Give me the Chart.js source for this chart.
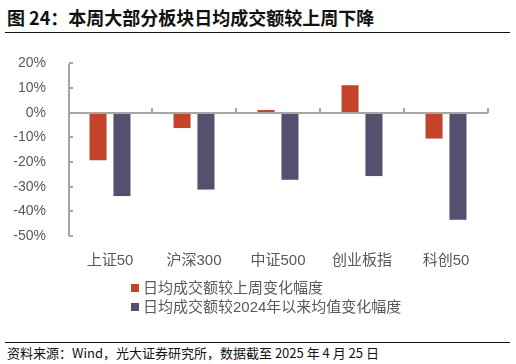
<!DOCTYPE html>
<html>
<head>
<meta charset="utf-8">
<script src="https://cdn.jsdelivr.net/npm/chart.js@4/dist/chart.umd.min.js"></script>
<style>
  html, body { margin: 0; padding: 0; background: #fff; }
  body { width: 516px; height: 364px; position: relative; overflow: hidden;
         font-family: "Liberation Sans", "Noto Sans CJK SC", sans-serif; }
  #title { position: absolute; left: 7px; top: 4px; font-size: 18px; font-weight: bold;
           font-family: "Noto Sans CJK SC", sans-serif; color: #111; white-space: nowrap; }
  .rule { position: absolute; left: 5px; width: 505px; height: 0; border-top: 1.5px solid #111; }
  #wrap { position: absolute; left: 0; top: 41px; width: 516px; height: 240px; }
  #legend { position: absolute; left: 131px; top: 278px; font-size: 15px; color: #595959; line-height: 19px; }
  #legend div { white-space: nowrap; }
  #legend span { display: inline-block; width: 8px; height: 8px; margin-right: 4px; vertical-align: 1px; }
  #note { position: absolute; left: 7px; top: 343px; font-size: 13px; color: #111; white-space: nowrap;
          font-family: "Noto Sans CJK SC", sans-serif; }
</style>
</head>
<body>
<div id="title">图 24：本周大部分板块日均成交额较上周下降</div>
<div class="rule" style="top:32px"></div>
<div id="wrap"><canvas id="chart"></canvas></div>
<div id="legend"></div>
<div class="rule" style="top:342px"></div>
<div id="note">资料来源：Wind，光大证券研究所，数据截至 2025 年 4 月 25 日</div>
<script>
const categories = ['上证50', '沪深300', '中证500', '创业板指', '科创50'];
const weekChange = [-19.5, -6.4, 1.3, 11.3, -10.7];
const ytdAvgChange = [-34.0, -31.3, -27.4, -25.9, -43.6];
const seriesNames = ['日均成交额较上周变化幅度', '日均成交额较2024年以来均值变化幅度'];
const colors = ['#C4432A', '#55506F'];

const axisColor = '#A6A6A6';

// legend drawn as html so both rows are left aligned
const legend = document.getElementById('legend');
seriesNames.forEach((name, i) => {
    const row = document.createElement('div');
    row.innerHTML = '<span style="background:' + colors[i] + '"></span>' + name;
    legend.appendChild(row);
});

// axis lines and inside tick marks like the excel original
const axisPlugin = {
    id: 'axisPlugin',
    afterDatasetsDraw(chart) {
        const ctx = chart.ctx;
        const x = chart.scales.x, y = chart.scales.y;
        const left = chart.chartArea.left + 1;
        ctx.save();
        ctx.strokeStyle = axisColor;
        ctx.lineWidth = 2;
        ctx.beginPath();
        ctx.moveTo(left, y.getPixelForValue(y.max));
        ctx.lineTo(left, y.getPixelForValue(y.min));
        y.ticks.forEach(t => {
            const py = Math.round(y.getPixelForValue(t.value));
            ctx.moveTo(left, py);
            ctx.lineTo(left + 4, py);
        });
        const y0 = Math.round(y.getPixelForValue(0));
        ctx.moveTo(left, y0);
        ctx.lineTo(chart.chartArea.right, y0);
        for (let i = 1; i <= categories.length; i++) {
            const px = Math.round(x.getPixelForValue(i - 0.5));
            ctx.moveTo(px, y0);
            ctx.lineTo(px, y0 - 5);
        }
        ctx.stroke();
        ctx.restore();
    }
};

new Chart(document.getElementById('chart'), {
    type: 'bar',
    data: {
        labels: categories,
        datasets: [
            { label: seriesNames[0], data: weekChange, backgroundColor: colors[0],
              borderColor: '#E8E0DE', borderWidth: 0.5 },
            { label: seriesNames[1], data: ytdAvgChange, backgroundColor: colors[1],
              borderColor: '#D8D6E0', borderWidth: 0.5 }
        ]
    },
    options: {
        responsive: true,
        maintainAspectRatio: false,
        animation: false,
        categoryPercentage: 0.57,
        barPercentage: 0.75,
        layout: { padding: { top: 14, right: 28, left: 0, bottom: 0 } },
        plugins: { legend: { display: false }, tooltip: { enabled: false } },
        scales: {
            x: {
                grid: { display: false },
                border: { display: false },
                ticks: { color: '#595959', padding: 8,
                         font: { size: 15, family: '"Liberation Sans", "Noto Sans CJK SC"' } },
                afterFit(s) { s.height = 45; }
            },
            y: {
                min: -50, max: 20,
                ticks: { stepSize: 10, color: '#595959', padding: 14,
                         font: { size: 14, family: '"Liberation Sans", "Noto Sans CJK SC"' },
                         callback: v => v + '%' },
                grid: { display: false },
                border: { display: false },
                afterFit(s) { s.width = 68; }
            }
        }
    },
    plugins: [axisPlugin]
});
</script>
</body>
</html>
